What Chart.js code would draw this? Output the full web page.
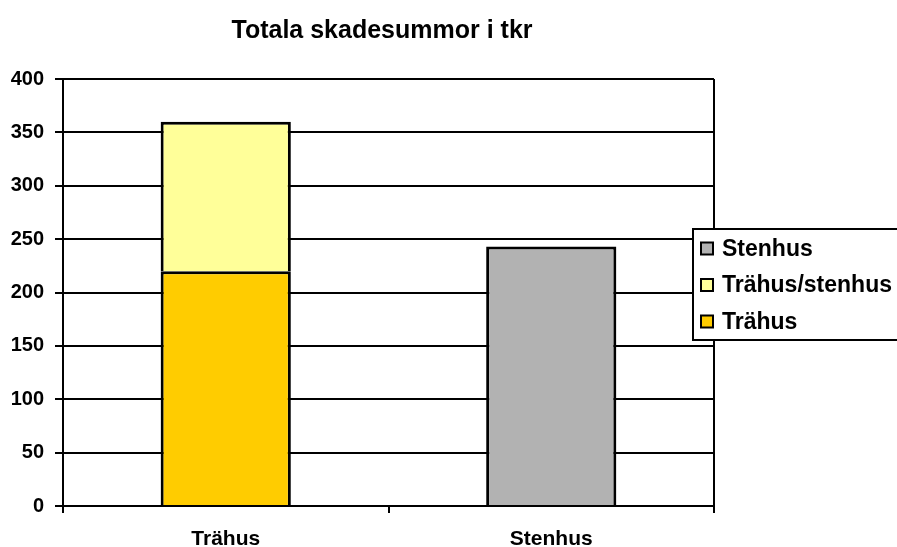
<!DOCTYPE html>
<html>
<head>
<meta charset="utf-8">
<title>Totala skadesummor i tkr</title>
<script src="https://cdn.jsdelivr.net/npm/chart.js@4/dist/chart.umd.min.js"></script>
<style>
  html, body { margin: 0; padding: 0; background: #fff; }
  #wrap { width: 897px; height: 547px; }
</style>
</head>
<body>
<div id="wrap"><canvas id="skadeChart" width="897" height="547"></canvas></div>
<script>
// Data
const categories = ['Trähus', 'Stenhus'];
const trahus = [220, null];
const trahusStenhus = [140, null];
const stenhus = [null, 243];
const yMin = 0, yMax = 400, yStep = 50;
const chartTitle = 'Totala skadesummor i tkr';

const FONT = "'Liberation Sans', Arial, sans-serif";

// Title sits a bit left of the canvas centre, so it is drawn here
const titleText = {
  id: 'titleText',
  afterDraw(chart) {
    const c = chart.ctx;
    c.save();
    c.font = 'bold 25px ' + FONT;
    c.fillStyle = '#000';
    c.textAlign = 'center';
    c.textBaseline = 'alphabetic';
    c.fillText(chartTitle, 382, 38);
    c.restore();
  }
};

// Legend box drawn over the plot (like the original), reversed order
const boxLegend = {
  id: 'boxLegend',
  afterDraw(chart) {
    const c = chart.ctx;
    const x = 693, y = 229, w = 210, h = 111;
    c.save();
    c.fillStyle = '#fff';
    c.fillRect(x, y, w, h);
    c.strokeStyle = '#000';
    c.lineWidth = 2;
    c.strokeRect(x, y, w, h);
    c.font = 'bold 23px ' + FONT;
    c.textBaseline = 'middle';
    c.textAlign = 'left';
    const ds = chart.data.datasets.slice().reverse();
    ds.forEach((d, i) => {
      const cy = 248.5 + i * 36.5;
      c.fillStyle = d.backgroundColor;
      c.fillRect(701, cy - 6, 12, 12);
      c.lineWidth = 2;
      c.strokeRect(701, cy - 6, 12, 12);
      c.fillStyle = '#000';
      c.fillText(d.label, 722, cy + 1);
    });
    c.restore();
  }
};

new Chart(document.getElementById('skadeChart'), {
  type: 'bar',
  data: {
    labels: categories,
    datasets: [
      { label: 'Trähus', data: trahus, backgroundColor: '#FFCC00' },
      { label: 'Trähus/stenhus', data: trahusStenhus, backgroundColor: '#FFFF99' },
      { label: 'Stenhus', data: stenhus, backgroundColor: '#B2B2B2' }
    ]
  },
  options: {
    responsive: false,
    animation: false,
    layout: { padding: { left: 0, right: 183, top: 79, bottom: 0 } },
    datasets: {
      bar: {
        borderColor: '#000',
        borderWidth: 3,
        categoryPercentage: 1,
        barPercentage: 0.4
      }
    },
    plugins: {
      legend: { display: false },
      tooltip: { enabled: false },
      title: { display: false }
    },
    scales: {
      x: {
        stacked: true,
        afterFit(s) { s.height = 41; },
        border: { display: true, color: '#000', width: 2 },
        grid: {
          offset: true,
          drawOnChartArea: true,
          color: (ctx) => ctx.index === 1 ? 'rgba(0,0,0,0)' : '#000',
          tickColor: '#000',
          lineWidth: 2,
          tickLength: 7
        },
        ticks: {
          color: '#000',
          padding: 14,
          font: { family: FONT, size: 21, weight: 'bold' }
        }
      },
      y: {
        stacked: true,
        min: yMin,
        max: yMax,
        afterFit(s) { s.width = 63; },
        border: { display: true, color: '#000', width: 2 },
        grid: { color: '#000', lineWidth: 2, tickLength: 8 },
        ticks: {
          stepSize: yStep,
          color: '#000',
          padding: 11,
          font: { family: FONT, size: 20, weight: 'bold' }
        }
      }
    }
  },
  plugins: [titleText, boxLegend]
});
</script>
</body>
</html>
